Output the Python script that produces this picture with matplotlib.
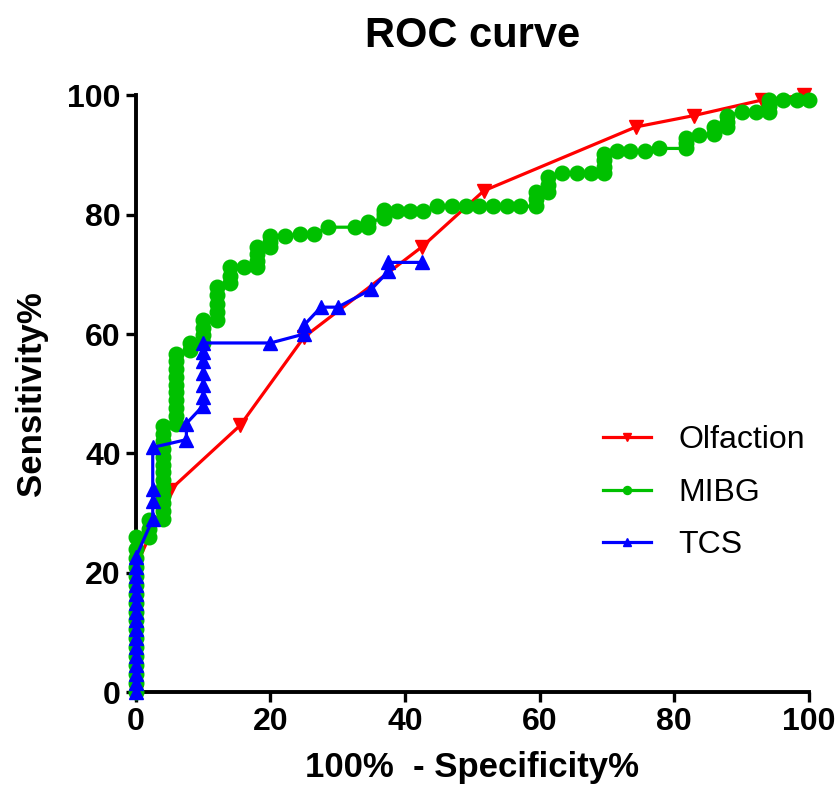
import matplotlib
matplotlib.use("Agg")
import matplotlib.pyplot as plt

plt.rcParams['font.family'] = ['Liberation Sans', 'DejaVu Sans']

# Olfaction ROC points
olf_x = [0, 0, 0, 0, 0, 5.0, 15.5, 25.0, 42.5, 51.7, 74.3, 82.9, 93.0, 99.3, 100]
olf_y = [0, 5, 10, 15, 21, 33.8, 44.7, 59.5, 74.6, 84.0, 94.7, 96.6, 99.2, 100, 100]
olf_marks = [0, 5, 6, 7, 8, 9, 10, 11, 12, 13]

# MIBG ROC points
mibg_x = [0, 0, 0, 0, 0, 0, 0, 0, 0, 0, 0, 0, 0, 0, 0, 0, 0, 0,
          2, 2, 2,
          4, 4, 4, 4, 4, 4, 4, 4, 4, 4, 4, 4, 4,
          6, 6, 6, 6, 6, 6, 6, 6, 6, 6,
          8, 8,
          10, 10, 10, 10,
          12, 12, 12, 12, 12,
          14, 14, 14,
          16,
          18, 18, 18, 18,
          20, 20, 20,
          22.2, 24.4, 26.4, 28.6, 32.6,
          34.5, 34.5,
          36.8, 36.8, 36.8,
          38.8, 40.8, 42.7, 44.7, 47.0, 49.0, 51.0, 53.1, 55.2, 57.1,
          59.4, 59.4, 59.4,
          61.3, 61.3, 61.3,
          63.3, 65.6, 67.6,
          69.5, 69.5, 69.5, 69.5,
          71.5, 73.5, 75.7, 77.7,
          81.7, 81.7, 81.7,
          83.7,
          85.9, 85.9,
          87.9, 87.9, 87.9,
          90.1, 92.1,
          94.1, 94.1, 94.1,
          96.1, 98.3, 100]
mibg_y = [0, 1.5, 3, 4.5, 6, 7.5, 9, 10.5, 12, 13.5, 15, 16.5, 18, 19.5, 21, 22.5, 24, 26,
          26, 27.4, 28.8,
          29, 30.3, 31.6, 32.9, 34.2, 35.5, 36.8, 38.1, 39.4, 40.7, 42, 43.3, 44.6,
          45, 46.3, 47.6, 48.9, 50.2, 51.5, 52.8, 54.1, 55.4, 56.7,
          57.3, 58.5,
          58.5, 59.8, 61.0, 62.3,
          62.3, 63.7, 65.1, 66.5, 67.9,
          68.5, 69.8, 71.2,
          71.2,
          71.2, 72.3, 73.4, 74.6,
          74.6, 75.5, 76.4,
          76.4, 76.8, 76.8, 77.9, 77.9,
          77.9, 78.7,
          79.4, 80.1, 80.8,
          80.6, 80.6, 80.6, 81.4, 81.4, 81.4, 81.4, 81.4, 81.4, 81.4,
          81.4, 82.6, 83.8,
          83.8, 85.0, 86.3,
          87.0, 87.0, 87.0,
          87.0, 88.0, 89.1, 90.2,
          90.6, 90.6, 90.6, 91.1,
          91.1, 92.0, 92.8,
          93.3,
          93.6, 94.7,
          94.7, 95.6, 96.6,
          97.2, 97.2,
          97.2, 98.2, 99.2,
          99.2, 99.2, 99.2]

# TCS ROC points
tcs_x = [0, 0, 0, 0, 0, 0, 0, 0, 0, 0, 0, 0, 0, 0, 0, 0,
         2.5, 2.5, 2.5, 2.5,
         7.5, 7.5,
         10, 10, 10, 10, 10, 10, 10,
         20, 25, 25, 27.5, 30, 35, 37.5, 37.5, 42.5]
tcs_y = [0, 1.5, 3, 4.5, 6, 7.5, 9, 10.5, 12, 13.5, 15, 16.5, 18, 19.5, 21, 22.6,
         29.0, 32.0, 34.0, 41.0,
         42.3, 45.0,
         48.0, 49.5, 51.5, 53.5, 55.5, 57.0, 58.5,
         58.5, 60.0, 61.5, 64.5, 64.5, 67.5, 70.5, 72.0, 72.0]

fig = plt.figure(figsize=(8.39, 8.01), dpi=100)
ax = fig.add_axes([0.162, 0.136, 0.802, 0.745])

lw = 2.3
ms = 10.5
ax.plot(olf_x, olf_y, color='#ff0000', lw=lw, marker='v', ms=ms,
        markevery=olf_marks, label='Olfaction', clip_on=False, zorder=3)
ax.plot(mibg_x, mibg_y, color='#00c000', lw=lw, marker='o', ms=ms,
        label='MIBG', clip_on=False, zorder=4)
ax.plot(tcs_x, tcs_y, color='#0000ff', lw=lw, marker='^', ms=ms,
        label='TCS', clip_on=False, zorder=5)

ax.set_xlim(0, 100)
ax.set_ylim(0, 100)
ax.set_xticks(range(0, 101, 20))
ax.set_yticks(range(0, 101, 20))

for s in ['top', 'right']:
    ax.spines[s].set_visible(False)
for s in ['left', 'bottom']:
    ax.spines[s].set_linewidth(2.8)
ax.tick_params(width=2.4, length=7, labelsize=23, pad=4)
for t in ax.get_xticklabels() + ax.get_yticklabels():
    t.set_fontweight('bold')

ax.set_title("ROC curve", fontsize=30, fontweight='bold', pad=35)
ax.set_xlabel("100%  - Specificity%", fontsize=25, fontweight='bold', labelpad=10)
ax.set_ylabel("Sensitivity%", fontsize=25, fontweight='bold', labelpad=14)

leg = ax.legend(loc='upper left', bbox_to_anchor=(0.652, 0.495), frameon=False,
                fontsize=23, handlelength=1.5, handletextpad=0.85, labelspacing=0.7,
                markerscale=0.55)

plt.savefig("out.png", dpi=100)
